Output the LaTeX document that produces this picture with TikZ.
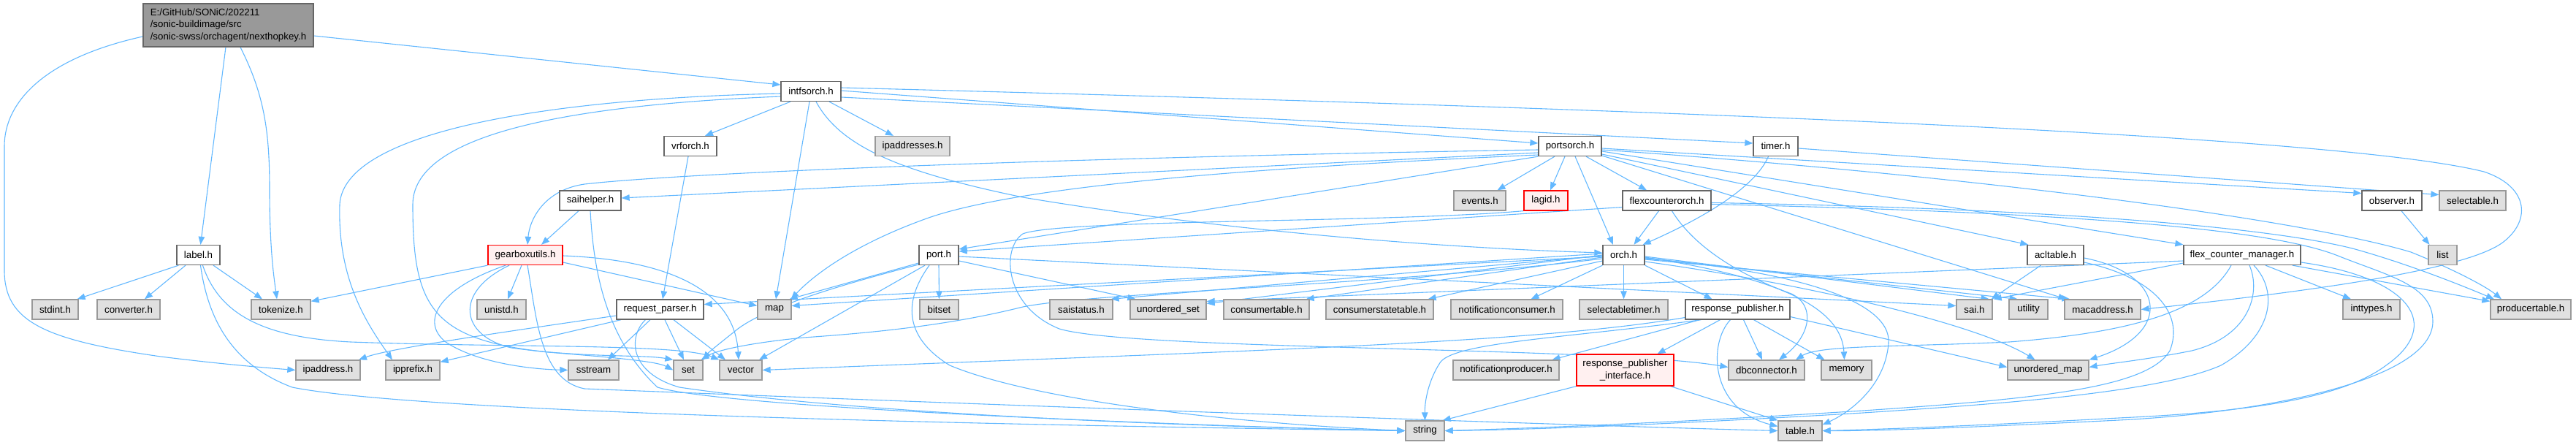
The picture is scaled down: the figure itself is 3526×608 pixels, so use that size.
\documentclass[tikz,border=0pt]{standalone}
\usepackage{fontspec}
\setmainfont{Liberation Sans}
\usetikzlibrary{arrows.meta,backgrounds}
\definecolor{edgec}{HTML}{63B8FF}
\definecolor{wbord}{HTML}{666666}
\definecolor{gbord}{HTML}{999999}
\definecolor{gfill}{HTML}{E0E0E0}
\definecolor{rfill}{HTML}{FFF0F0}
\definecolor{mfill}{HTML}{999999}
\newcommand\dxfont{\fontsize{13.3}{16.3}\selectfont}
\tikzset{
  basebox/.style={rectangle, minimum height=27pt, inner sep=0pt, line width=1.3pt, font=\dxfont, text=black},
  wnode/.style={basebox, draw=wbord, fill=white},
  gnode/.style={basebox, draw=gbord, fill=gfill},
  rnode/.style={basebox, draw=red, fill=rfill},
  mnode/.style={basebox, draw=wbord, fill=mfill, minimum height=59pt, align=left},
  e/.style={draw=edgec, line width=1.1pt, -{Triangle[length=11pt,width=8.5pt]}},
}
\begin{document}
\begin{tikzpicture}[x=1pt,y=-1pt]
\useasboundingbox (0,0) rectangle (3526,608);
% ---------------- nodes ----------------
\node[mnode, minimum width=233pt] (M) at (312.5,34.5) {E:/GitHub/SONiC/202211\\/sonic-buildimage/src\\/sonic-swss/orchagent/nexthopkey.h};
\node[wnode, minimum width=82pt] (intfsorch) at (1110,125) {intfsorch.h};
% row 2
\node[wnode, minimum width=72pt] (vrforch) at (945,200) {vrforch.h};
\node[gnode, minimum width=102pt] (ipaddresses) at (1249,200) {ipaddresses.h};
\node[wnode, minimum width=86pt] (portsorch) at (2149,200) {portsorch.h};
\node[wnode, minimum width=61pt] (timer) at (2430.5,200) {timer.h};
% row 3
\node[wnode, minimum width=84pt] (saihelper) at (808,274.5) {saihelper.h};
\node[gnode, minimum width=71pt] (events) at (2025.5,274.5) {events.h};
\node[rnode, minimum width=60pt] (lagid) at (2116,274.5) {lagid.h};
\node[wnode, minimum width=121pt] (flexcounterorch) at (2281.5,274.5) {flexcounterorch.h};
\node[wnode, minimum width=82pt] (observer) at (3274,274.5) {observer.h};
\node[gnode, minimum width=91pt] (selectable) at (3384.5,274.5) {selectable.h};
% row 4
\node[wnode, minimum width=59pt] (label) at (271.5,349) {label.h};
\node[rnode, minimum width=102pt] (gearbox) at (719,349) {gearboxutils.h};
\node[wnode, minimum width=54pt] (port) at (1285,349) {port.h};
\node[wnode, minimum width=57pt] (orch) at (2222.5,349) {orch.h};
\node[wnode, minimum width=77pt] (acltable) at (2813.5,349) {acltable.h};
\node[wnode, minimum width=160pt] (fcm) at (3069,349) {flex\_counter\_manager.h};
\node[gnode, minimum width=39pt] (list) at (3343.5,349) {list};
% row 5
\node[gnode, minimum width=63pt] (stdint) at (75.5,423.5) {stdint.h};
\node[gnode, minimum width=86pt] (converter) at (176,423.5) {converter.h};
\node[gnode, minimum width=81pt] (tokenize) at (384.5,423.5) {tokenize.h};
\node[gnode, minimum width=67pt] (unistd) at (686.5,423.5) {unistd.h};
\node[wnode, minimum width=119pt] (reqp) at (903.5,423.5) {request\_parser.h};
\node[gnode, minimum width=46pt] (map) at (1060,423.5) {map};
\node[gnode, minimum width=53pt] (bitset) at (1285.5,423.5) {bitset};
\node[gnode, minimum width=86pt] (saistatus) at (1480,423.5) {saistatus.h};
\node[gnode, minimum width=104pt] (uset) at (1599,423.5) {unordered\_set};
\node[gnode, minimum width=117pt] (ctable) at (1733.5,423.5) {consumertable.h};
\node[gnode, minimum width=147pt] (cstable) at (1888.5,423.5) {consumerstatetable.h};
\node[gnode, minimum width=153pt] (nconsumer) at (2062.5,423.5) {notificationconsumer.h};
\node[gnode, minimum width=121pt] (stimer) at (2222.5,423.5) {selectabletimer.h};
\node[wnode, minimum width=143pt] (rp) at (2378.5,423.5) {response\_publisher.h};
\node[gnode, minimum width=49pt] (sai) at (2702.5,423.5) {sai.h};
\node[gnode, minimum width=53pt] (utility) at (2776.5,423.5) {utility};
\node[gnode, minimum width=104pt] (mac) at (2878,423.5) {macaddress.h};
\node[gnode, minimum width=78pt] (inttypes) at (3246,423.5) {inttypes.h};
\node[gnode, minimum width=110pt] (ptable) at (3464,423.5) {producertable.h};
% row 6
\node[gnode, minimum width=88pt] (ipaddress) at (449,506.5) {ipaddress.h};
\node[gnode, minimum width=74pt] (ipprefix) at (565,506.5) {ipprefix.h};
\node[gnode, minimum width=69pt] (sstream) at (812.5,506.5) {sstream};
\node[gnode, minimum width=40pt] (set) at (942,506.5) {set};
\node[gnode, minimum width=58pt] (vector) at (1014,506.5) {vector};
\node[gnode, minimum width=145pt] (nproducer) at (2061.5,506.5) {notificationproducer.h};
\node[rnode, minimum width=133pt, minimum height=43pt, align=center] (rpi) at (2224.5,506.5) {response\_publisher\\\_interface.h};
\node[gnode, minimum width=104pt] (dbc) at (2418,506.5) {dbconnector.h};
\node[gnode, minimum width=69pt] (memory) at (2527.5,506.5) {memory};
\node[gnode, minimum width=111pt] (umap) at (2803.5,506.5) {unordered\_map};
% row 7
\node[gnode, minimum width=53pt] (string) at (1950.5,589.5) {string};
\node[gnode, minimum width=60pt] (table) at (2464,589.5) {table.h};
% ---------------- edges ----------------
\begin{scope}[on background layer]
% main
\draw[e] ([xshift=-3.5pt]M.south) -- ([xshift=3pt]label.north);
\draw[e] ([xshift=16.5pt]M.south) .. controls (362,130) and (369,180) .. (369,260) .. controls (369,340) and (375,380) .. ([xshift=-5.5pt]tokenize.north);
\draw[e] ([yshift=-15.5pt]M.west) .. controls (60,80) and (6,140) .. (6,200) -- (6,370) .. controls (6,440) and (60,465) .. (220,488) .. controls (300,498) and (360,503) .. (ipaddress.west);
\draw[e] ([yshift=-14.5pt]M.east) -- ([yshift=9pt]intfsorch.west);
% label
\draw[e] ([xshift=3pt]label.south west) -- ([xshift=-2pt]stdint.north east);
\draw[e] ([xshift=-17.5pt]label.south) -- ([xshift=22pt]converter.north);
\draw[e] ([xshift=20.5pt]label.south) -- ([xshift=-25.5pt]tokenize.north);
\draw[e] ([xshift=3pt]label.south) .. controls (285,440) and (320,500) .. (400,530) .. controls (600,570) and (1600,585) .. (string.west);
\draw[e] ([xshift=6pt]label.south) .. controls (300,430) and (360,462) .. (480,468) .. controls (700,476) and (930,470) .. (vector.north west);
% intfsorch
\draw[e] ([xshift=-28pt]intfsorch.south) -- ([xshift=20pt]vrforch.north);
\draw[e] ([xshift=25pt]intfsorch.south) -- ([xshift=-26pt]ipaddresses.north);
\draw[e] ([xshift=-2pt]intfsorch.south) -- ([xshift=2pt]map.north);
\draw[e] ([xshift=7pt]intfsorch.south) .. controls (1150,200) and (1230,235) .. (1400,270) .. controls (1700,320) and (2000,340) .. ([yshift=3pt]orch.west);
\draw[e] ([yshift=1pt]intfsorch.east) -- ([yshift=4pt]portsorch.west);
\draw[e] ([yshift=-8pt]intfsorch.east) -- ([yshift=4pt]timer.west);
\draw[e] ([yshift=5pt]intfsorch.east) .. controls (2300,150) and (3200,185) .. (3400,235) .. controls (3460,255) and (3465,300) .. (3428,330) .. controls (3380,370) and (3150,400) .. (mac.east);
\draw[e] ([yshift=-3pt]intfsorch.west) .. controls (750,135) and (470,180) .. (465,280) .. controls (462,380) and (500,440) .. ([xshift=-28pt]ipprefix.north);
\draw[e] ([yshift=-7pt]intfsorch.west) .. controls (750,145) and (565,190) .. (565,280) .. controls (565,420) and (590,465) .. (750,482) .. controls (850,490) and (900,495) .. (set.west);
% vrforch
\draw[e] ([xshift=-3pt]vrforch.south) -- ([xshift=3.5pt]reqp.north);
% request_parser
\draw[e] ([yshift=-8.5pt]reqp.west) .. controls (650,460) and (530,478) .. ([xshift=42pt]ipaddress.north);
\draw[e] ([xshift=-53.5pt]reqp.south) -- ([yshift=-3pt]ipprefix.north east);
\draw[e] ([xshift=-13.5pt]reqp.south) -- ([xshift=19.5pt]sstream.north);
\draw[e] ([xshift=6.5pt]reqp.south) -- ([xshift=-6pt]set.north);
\draw[e] ([xshift=18.5pt]reqp.south) -- ([xshift=-21pt]vector.north);
\draw[e] ([xshift=-20pt]reqp.south) .. controls (860,460) and (860,510) .. (930,530) .. controls (1200,570) and (1700,585) .. (string.west);
% saihelper
\draw[e] ([xshift=-16pt]saihelper.south) -- ([xshift=22pt]gearbox.north);
\draw[e] (saihelper.south) .. controls (812,360) and (825,460) .. (900,530) .. controls (1000,560) and (1700,585) .. (string.west);
% gearboxutils
\draw[e] (gearbox.south west) -- ([yshift=-3pt]tokenize.north east);
\draw[e] ([xshift=-5pt]gearbox.south) -- ([xshift=8.5pt]unistd.north);
\draw[e] ([xshift=-27pt]gearbox.south) .. controls (600,395) and (575,440) .. (610,468) .. controls (650,495) and (720,505) .. (sstream.west);
\draw[e] ([xshift=-22pt]gearbox.south) .. controls (620,400) and (630,460) .. (700,476) .. controls (800,490) and (880,485) .. (set.north west);
\draw[e] ([yshift=-1pt]gearbox.east) .. controls (900,355) and (1005,390) .. ([xshift=-3pt]vector.north);
\draw[e] ([yshift=-10pt]gearbox.east) -- ([yshift=5pt]map.west);
\draw[e] ([xshift=3pt]gearbox.south) .. controls (735,440) and (740,520) .. (800,532) .. controls (1500,560) and (2250,585) .. (table.west);
% port
\draw[e] (port.south) -- (bitset.north);
\draw[e] ([yshift=-11pt]port.west) -- ([xshift=-3pt]map.north east);
\draw[e] ([yshift=-13pt]port.west) .. controls (1150,390) and (1050,420) .. (1010,450) .. controls (985,470) and (970,482) .. (set.north east);
\draw[e] ([xshift=-19pt]port.south) -- ([xshift=25pt]vector.north);
\draw[e] ([xshift=-13pt]port.south) .. controls (1238,410) and (1235,460) .. (1300,500) .. controls (1420,550) and (1700,580) .. (string.west);
\draw[e] ([yshift=-8pt]port.east) -- ([xshift=8pt]uset.north west);
\draw[e] ([yshift=-2pt]port.east) -- ([yshift=5pt]sai.west);
% portsorch
\draw[e] ([xshift=-21pt]portsorch.south) -- ([xshift=24pt]events.north);
\draw[e] ([xshift=-7pt]portsorch.south) -- ([xshift=6pt]lagid.north);
\draw[e] ([xshift=7pt]portsorch.south) -- ([xshift=-14.5pt]orch.north);
\draw[e] ([xshift=22pt]portsorch.south) -- ([xshift=-27.5pt]flexcounterorch.north);
\draw[e] ([yshift=-9pt]portsorch.west) -- ([yshift=3.5pt]saihelper.east);
\draw[e] ([yshift=-5pt]portsorch.west) .. controls (1500,215) and (950,235) .. (800,252) .. controls (745,260) and (725,300) .. ([xshift=3pt]gearbox.north);
\draw[e] ([yshift=-12pt]portsorch.west) .. controls (1700,230) and (1400,255) .. (1274,297) .. controls (1180,330) and (1120,370) .. ([xshift=-1pt]map.north east);
\draw[e] (portsorch.south west) -- ([yshift=8pt]port.east);
\draw[e] ([yshift=-11pt]portsorch.east) -- ([xshift=2pt]acltable.north west);
\draw[e] ([yshift=-7pt]portsorch.east) -- (fcm.north west);
\draw[e] ([yshift=-3pt]portsorch.east) -- ([yshift=10pt]observer.west);
\draw[e] ([yshift=-5pt]portsorch.east) .. controls (2700,240) and (3150,300) .. (3300,345) .. controls (3350,365) and (3400,390) .. ([xshift=-40pt]ptable.north);
\draw[e] ([yshift=-13pt]portsorch.east) -- ([xshift=3pt]mac.north west);
% timer
\draw[e] ([xshift=-10pt]timer.south) .. controls (2405,250) and (2350,290) .. ([xshift=-3pt]orch.north east);
\draw[e] ([yshift=-3pt]timer.east) -- ([yshift=8pt]selectable.west);
% flexcounterorch
\draw[e] ([xshift=-11pt]flexcounterorch.south) -- ([xshift=14pt]orch.north);
\draw[e] ([yshift=-9pt]flexcounterorch.west) -- ([yshift=5pt]port.east);
\draw[e] ([xshift=7pt]flexcounterorch.south) .. controls (2320,340) and (2385,378) .. (2452,402) .. controls (2488,420) and (2475,462) .. ([xshift=17pt]dbc.north);
\draw[e] ([yshift=-3pt]flexcounterorch.east) .. controls (2800,285) and (3100,310) .. (3220,340) .. controls (3300,362) and (3380,395) .. ([xshift=-50pt]ptable.north);
\draw[e] ([yshift=-5pt]flexcounterorch.east) .. controls (2800,290) and (3100,310) .. (3200,350) .. controls (3270,378) and (3330,390) .. (3330,440) .. controls (3330,520) and (3100,565) .. (2900,575) .. controls (2700,585) and (2560,590) .. (table.east);
% lagid
\draw[e] (lagid.south west) .. controls (1900,305) and (1450,300) .. (1400,320) .. controls (1370,340) and (1375,420) .. (1450,450) .. controls (1550,480) and (2200,474) .. ([yshift=4pt]dbc.west);
% orch
\draw[e] ([yshift=-3pt]orch.west) -- ([xshift=-5pt]ctable.north east);
\draw[e] ([yshift=-8pt]orch.west) -- ([xshift=-8pt]cstable.north east);
\draw[e] (orch.south west) -- ([xshift=33pt]nconsumer.north);
\draw[e] (orch.south) -- (stimer.north);
\draw[e] (orch.south east) -- ([xshift=-35pt]rp.north);
\draw[e] ([yshift=2pt]orch.west) -- ([yshift=5pt]map.east);
\draw[e] (orch.west) -- ([yshift=8pt]uset.east);
\draw[e] ([yshift=-1pt]orch.west) -- ([xshift=-3pt]saistatus.north east);
\draw[e] ([yshift=-2pt]orch.west) -- ([yshift=7pt]reqp.east);
\draw[e] ([yshift=-5pt]orch.west) .. controls (1900,390) and (1500,400) .. (1400,420) .. controls (1300,445) and (1200,455) .. (1100,462) .. controls (1020,470) and (980,480) .. ([xshift=-3pt]set.north east);
\draw[e] ([yshift=-5pt]orch.east) .. controls (2450,370) and (2590,410) .. (2585,470) .. controls (2580,530) and (2530,565) .. ([yshift=-6pt]table.north east);
\draw[e] ([yshift=-3pt]orch.east) .. controls (2400,375) and (2520,410) .. ([xshift=-3pt]memory.north);
\draw[e] ([yshift=-2pt]orch.east) -- ([xshift=-5pt]sai.north east);
\draw[e] ([yshift=-4pt]orch.east) -- ([xshift=-15pt]utility.north);
\draw[e] ([yshift=-6pt]orch.east) -- ([xshift=8pt]mac.north west);
\draw[e] ([yshift=-9pt]orch.east) .. controls (2450,385) and (2700,440) .. ([xshift=-18pt]umap.north);
% response_publisher
\draw[e] ([xshift=-52pt]rp.south) -- ([xshift=63pt]nproducer.north);
\draw[e] ([xshift=-24pt]rp.south) -- ([xshift=44pt]rpi.north);
\draw[e] ([xshift=8pt]rp.south) -- ([xshift=-6pt]dbc.north);
\draw[e] ([xshift=22pt]rp.south) -- ([xshift=-30pt]memory.north);
\draw[e] ([xshift=-50pt]rp.south) .. controls (2150,462) and (1995,468) .. (1972,495) .. controls (1955,520) and (1950,550) .. (string.north);
\draw[e] ([xshift=-10pt]rp.south) .. controls (2338,470) and (2340,560) .. ([yshift=6pt]table.west);
\draw[e] ([yshift=-11pt]rp.west) .. controls (2100,470) and (1700,480) .. (vector.east);
\draw[e] ([yshift=-10pt]rp.east) -- ([yshift=4pt]umap.west);
% response_publisher_interface
\draw[e] (rpi.south west) -- ([xshift=-3pt]string.north east);
\draw[e] ([xshift=-5pt]rpi.south east) -- (table.north west);
% acltable
\draw[e] ([xshift=-20pt]acltable.south) -- ([xshift=-2pt]sai.north east);
\draw[e] ([yshift=-4pt]acltable.east) .. controls (2965,375) and (2975,455) .. (umap.north east);
\draw[e] ([yshift=-10pt]acltable.east) .. controls (2950,380) and (2990,430) .. (2970,480) .. controls (2940,530) and (2800,545) .. (2550,562) .. controls (2300,578) and (2100,586) .. (string.east);
% flex_counter_manager
\draw[e] ([yshift=-8pt]fcm.west) -- ([yshift=11pt]uset.east);
\draw[e] ([yshift=-11pt]fcm.west) -- ([xshift=1pt]sai.north east);
\draw[e] ([xshift=-15pt]fcm.south) .. controls (3020,425) and (2920,455) .. (2750,468) .. controls (2600,475) and (2490,472) .. ([xshift=40pt]dbc.north);
\draw[e] ([xshift=10pt]fcm.south) .. controls (3095,400) and (3080,460) .. (3000,480) .. controls (2940,492) and (2890,497) .. ([yshift=4pt]umap.east);
\draw[e] ([xshift=16pt]fcm.south) .. controls (3120,400) and (3110,460) .. (3040,500) .. controls (2950,540) and (2700,555) .. (2550,565) .. controls (2300,580) and (2100,588) .. (string.east);
\draw[e] ([xshift=32pt]fcm.south) -- ([xshift=-28pt]inttypes.north);
\draw[e] ([xshift=69pt]fcm.south) -- ([yshift=-3pt]ptable.north west);
\draw[e] ([yshift=-10pt]fcm.east) .. controls (3300,380) and (3345,445) .. (3266,500) .. controls (3200,550) and (3050,565) .. (2900,572) .. controls (2700,583) and (2560,588) .. (table.east);
% observer
\draw[e] ([xshift=13pt]observer.south) -- ([xshift=-18pt]list.north);
\end{scope}
\end{tikzpicture}
\end{document}
